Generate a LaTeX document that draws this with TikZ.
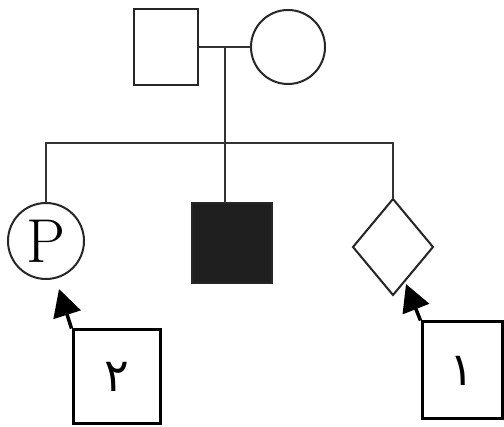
\documentclass[tikz,border=0pt]{standalone}
\usepackage{fontspec}
\newfontfamily\arabicfont[Script=Arabic]{DejaVu Sans}
\usetikzlibrary{shapes.geometric,arrows.meta}
\begin{document}
\begin{tikzpicture}[x=1pt,y=-1pt]
\useasboundingbox (0,0) rectangle (504,427);
\tikzset{
 pline/.style={line width=2pt, draw=black!80},
 sym/.style={draw=black!85, line width=2pt, inner sep=0pt, outer sep=0pt},
 labelbox/.style={draw=black, line width=3pt, inner sep=0pt},
 pointer/.style={draw=black, line width=3.5pt, -{Triangle[length=27pt,width=28pt]}},
 digit/.style={font=\arabicfont\fontsize{46}{46}\selectfont},
}
% parents
\node[sym, rectangle, minimum width=64pt, minimum height=76pt] (father) at (166,47) {};
\node[sym, circle, minimum size=74pt] (mother) at (288,47) {};
% children
\node[sym, circle, minimum size=76pt, font=\fontsize{62}{64}\selectfont] (proband) at (46,241) {P};
\node[sym, rectangle, fill=black!88, minimum width=80pt, minimum height=80pt] (affected) at (232,243) {};
\node[sym, diamond, shape aspect=0.83, minimum width=80pt, minimum height=96pt] (unknown) at (393,247) {};
% connectors
\coordinate (mid) at (225,47);
\coordinate (sib) at (225,143);
\draw[pline] (father.east) -- (mother.west);
\draw[pline] (mid) -- (affected.north -| mid);
\draw[pline] (proband.north) |- (sib) -| (unknown.north);
% label boxes
\node[labelbox, minimum width=87pt, minimum height=94pt, digit] (box2) at (116.5,377) {۲};
\node[labelbox, minimum width=80pt, minimum height=97pt, digit] (box1) at (462,370.5) {۱};
\coordinate (tip2) at (59,289);
\coordinate (tip1) at (406,284);
\draw[pointer] (box2.north west) -- (tip2);
\draw[pointer] (box1.north west) -- (tip1);
\end{tikzpicture}
\end{document}
